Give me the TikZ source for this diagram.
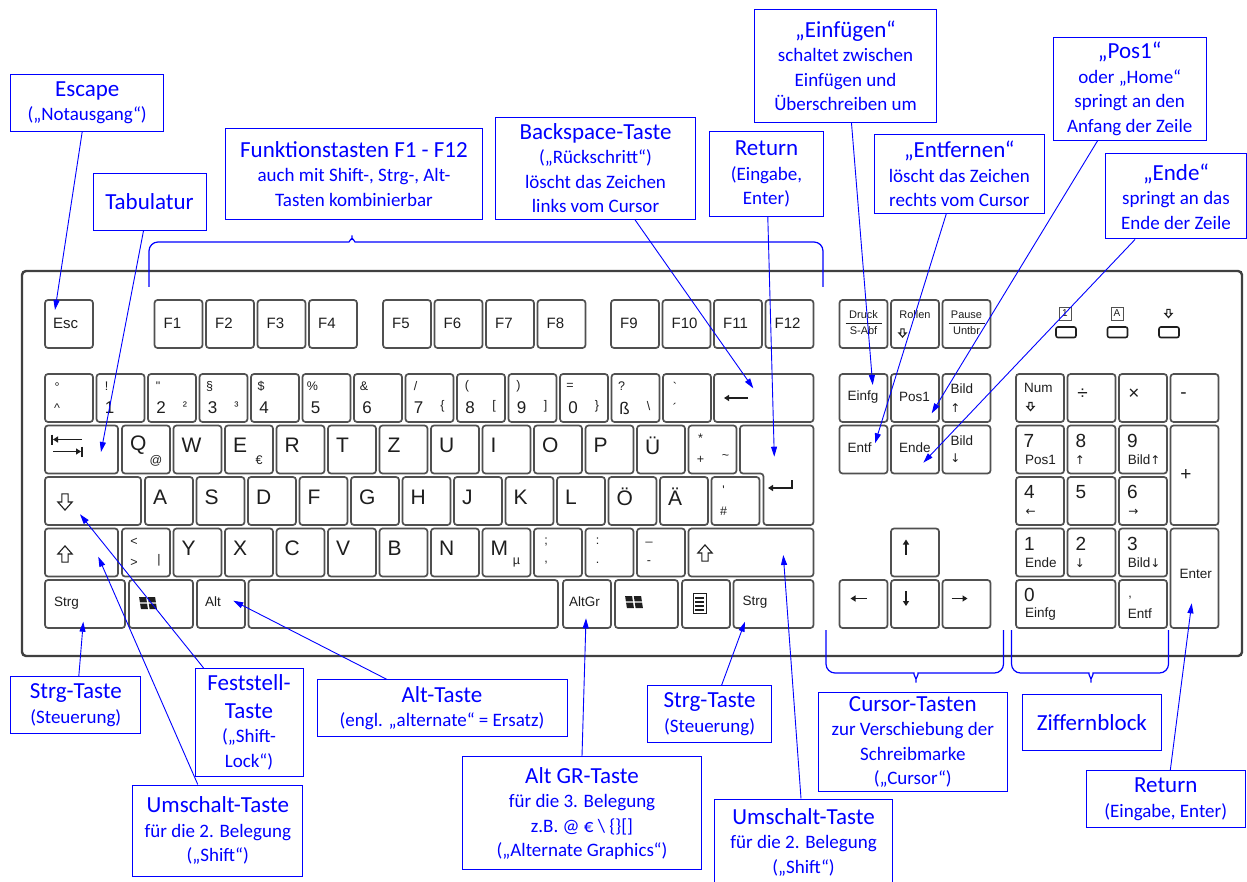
\documentclass[tikz,border=0pt]{standalone}
\usepackage{fontspec}
\setmainfont{Carlito}
\newfontfamily\keyfont{Liberation Sans}
\newfontfamily\symfont{DejaVu Sans}
\usetikzlibrary{calc}
\usetikzlibrary{arrows.meta}
\tikzset{>={Triangle[width=6pt,length=10pt]}}
\definecolor{noteblue}{RGB}{0,0,255}
\definecolor{keyline}{RGB}{80,80,80}
\definecolor{keytext}{RGB}{30,30,30}

\newcommand{\ttl}[1]{{\fontsize{23}{24}\selectfont #1}}

% Ziffern-Taste: Shift oben, Ziffer unten, AltGr rechts
\newcommand{\numkey}[5]{%
  \node[key] (#1) at (#2,374) {};
  \node[keysm] (#1u) at ($(#1.north west)+(10,12)$) {#3};
  \node[keydigit] (#1d) at ($(#1.north west)+(13,34)$) {#4};
  \node[keysm] (#1a) at ($(#1.north west)+(37,32)$) {#5};}
\newcommand{\symkey}[6]{%
  \node[key] (#1) at (#2,#3) {};
  \node[keysm] (#1u) at ($(#1.north west)+(12,13)$) {#4};
  \node[keysm] (#1d) at ($(#1.north west)+(12,34)$) {#5};
  \node[keysm] (#1a) at ($(#1.north west)+(37,32)$) {#6};}
\newcommand{\hollowdown}[3]{%
  \draw[keytext, line width=1.1pt, shift={(#1,#2)}, scale=#3]
    (-3.5,-9) -- (3.5,-9) -- (3.5,0) -- (8,0) -- (0,9) -- (-8,0) -- (-3.5,0) -- cycle;}
\newcommand{\hollowup}[3]{%
  \draw[keytext, line width=1.1pt, shift={(#1,#2)}, scale=#3, yscale=-1]
    (-3.5,-9) -- (3.5,-9) -- (3.5,0) -- (8,0) -- (0,9) -- (-8,0) -- (-3.5,0) -- cycle;}
\newcommand{\winlogo}[2]{%
  \fill[keytext, shift={(#1,#2)}, xslant=-0.15]
    (-8,-6) rectangle (-1,-0.7) (0.7,-6) rectangle (8,-0.7)
    (-8,0.7) rectangle (-1,6) (0.7,0.7) rectangle (8,6);}

\begin{document}
\begin{tikzpicture}[
    x=1pt, y=-1pt,
    keyframe/.style = {draw=keyline, line width=1.7pt, rounded corners=3pt, fill=white},
    key/.style = {keyframe, anchor=north west, inner sep=0pt, outer sep=0pt,
        minimum width=48pt, minimum height=48pt},
    keysm/.style = {font=\keyfont\fontsize{12.5}{12.5}\selectfont, text=keytext, inner sep=0pt},
    keydigit/.style = {font=\keyfont\fontsize{17}{17}\selectfont, text=keytext, inner sep=0pt},
    keynum/.style = {font=\keyfont\fontsize{19}{19}\selectfont, text=keytext, inner sep=0pt},
    keyltr/.style = {font=\keyfont\fontsize{21}{21}\selectfont, text=keytext, inner sep=0pt, anchor=west},
    keyfn/.style = {font=\keyfont\fontsize{15}{15}\selectfont, text=keytext, inner sep=0pt, anchor=west},
    keymod/.style = {font=\keyfont\fontsize{13.5}{13.5}\selectfont, text=keytext, inner sep=0pt, anchor=west},
    keytiny/.style = {font=\keyfont\fontsize{11}{11}\selectfont, text=keytext, inner sep=0pt},
    keyglyph/.style = {font=\symfont\fontsize{12}{12}\selectfont, text=keytext, inner sep=0pt},
    keyarr/.style = {draw=keytext, line width=1.6pt, -{Triangle[length=5pt,width=6pt]}},
    note/.style = {draw=noteblue, text=noteblue, line width=1pt, align=center,
        inner sep=1pt, font=\fontsize{19}{24.5}\selectfont},
    arr/.style = {->, draw=noteblue, line width=0.9pt},
    brace/.style = {draw=noteblue, line width=1.2pt}
  ]
  \useasboundingbox (0,0) rectangle (1247,882);

  % Gehaeuse
  \draw[draw=black!75, line width=2.4pt, rounded corners=4pt] (22,271) rectangle (1242,656);

  % Funktionsreihe
  \node[key] (kesc) at (45,300) {};
  \node[keyfn] (kescl) at ($(kesc.north west)+(8,23)$) {Esc};
  \foreach \x [count=\i] in {154.5,206,257.5,309,383,434.5,486,537.5,611,662.5,714,765.5} {
    \node[key] (f\i) at (\x,300) {};
    \node[keyfn] (fl\i) at ($(f\i.north west)+(9,23)$) {F\i};}

  % Ziffernreihe
  \symkey{kcirc}{45}{374}{°}{\textasciicircum}{}
  \numkey{k1}{96.5}{!}{1}{}
  \numkey{k2}{148}{"}{2}{²}
  \numkey{k3}{199.5}{§}{3}{³}
  \numkey{k4}{251}{\$}{4}{}
  \numkey{k5}{302.5}{\%}{5}{}
  \numkey{k6}{354}{\&}{6}{}
  \numkey{k7}{405.5}{/}{7}{\{}
  \numkey{k8}{457}{(}{8}{[}
  \numkey{k9}{508.5}{)}{9}{]}
  \numkey{k0}{560}{=}{0}{\}}
  \numkey{kss}{611.5}{?}{ß}{\textbackslash}
  \symkey{kacc}{663}{374}{`}{´}{}
  \node[key, minimum width=99.5pt] (kbs) at (714,374) {};
  \draw[keyarr] ($(kbs.north west)+(34,24)$) -- ($(kbs.north west)+(10,24)$);

  % QWERTZ-Reihe
  \node[key, minimum width=73pt] (ktab) at (45,425.5) {};
  \draw[keyarr, line width=1.3pt] ($(ktab.north west)+(37,14)$) -- ($(ktab.north west)+(8,14)$);
  \draw[keytext, line width=1.3pt] ($(ktab.north west)+(7,9)$) -- ($(ktab.north west)+(7,19)$);
  \draw[keyarr, line width=1.3pt] ($(ktab.north west)+(8,26)$) -- ($(ktab.north west)+(36,26)$);
  \draw[keytext, line width=1.3pt] ($(ktab.north west)+(37,21)$) -- ($(ktab.north west)+(37,31)$);
  \foreach \c [count=\i from 0] in {Q,W,E,R,T,Z,U,I,O,P,Ü} {
    \node[key] (q\i) at ({122+51.5*\i},425.5) {};
    \node[keyltr] (ql\i) at ($(q\i.north west)+(8,20)$) {\c};}
  \node[keysm] (qat) at ($(q0.north west)+(34,35)$) {@};
  \node[keysm] (qeuro) at ($(q2.north west)+(34,35)$) {€};
  \symkey{kplus}{688.5}{425.5}{*}{+}{\textasciitilde}
  \draw[keyframe] (740,425.5) -- (813.5,425.5) -- (813.5,525) -- (763.5,525)
    -- (763.5,473.5) -- (740,473.5) -- cycle;
  \coordinate (kret) at (740,425.5);
  \draw[keyarr] (792,480) -- (792,488) -- (768,488);

  % ASDF-Reihe
  \node[key, minimum width=96pt] (kcaps) at (45,477) {};
  \hollowdown{65}{502}{0.9}
  \foreach \c [count=\i from 0] in {A,S,D,F,G,H,J,K,L,Ö,Ä} {
    \node[key] (a\i) at ({145+51.5*\i},477) {};
    \node[keyltr] (al\i) at ($(a\i.north west)+(8,20)$) {\c};}
  \symkey{khash}{711.5}{477}{'}{\#}{}

  % YXCV-Reihe
  \node[key, minimum width=73pt] (klshift) at (45,528.5) {};
  \hollowup{65}{554}{0.9}
  \symkey{kless}{122}{528.5}{<}{>}{|}
  \foreach \c [count=\i from 0] in {Y,X,C,V,B,N,M} {
    \node[key] (y\i) at ({173.5+51.5*\i},528.5) {};
    \node[keyltr] (yl\i) at ($(y\i.north west)+(8,20)$) {\c};}
  \node[keysm] (ymu) at ($(y6.north west)+(34,34)$) {µ};
  \symkey{ksemi}{534}{528.5}{;}{,}{}
  \symkey{kcolon}{585.5}{528.5}{:}{.}{}
  \symkey{kminus}{637}{528.5}{\_}{-}{}
  \node[key, minimum width=125pt] (krshift) at (688.5,528.5) {};
  \hollowup{705}{553}{0.9}

  % untere Reihe
  \node[key, minimum width=80pt] (klctrl) at (45,580) {};
  \node[keymod] (klctrll) at ($(klctrl.north west)+(9,23)$) {Strg};
  \node[key, minimum width=64pt] (klwin) at (129,580) {};
  \winlogo{148}{603}
  \node[key] (kalt) at (197,580) {};
  \node[keymod] (kaltl) at ($(kalt.north west)+(8,22)$) {Alt};
  \node[key, minimum width=309.5pt] (kspace) at (248.5,580) {};
  \node[key] (kaltgr) at (563,580) {};
  \node[keymod] (kaltgrl) at ($(kaltgr.north west)+(6,22)$) {AltGr};
  \node[key, minimum width=63pt] (krwin) at (615,580) {};
  \winlogo{634}{602}
  \node[key] (kmenu) at (682,580) {};
  \draw[keytext, line width=1pt] (693,593) rectangle (706,613);
  \foreach \y in {597,601,605,609} \fill[keytext] (695,\y) rectangle (704,{\y+2});
  \node[key, minimum width=80pt] (krctrl) at (733.5,580) {};
  \node[keymod] (krctrll) at ($(krctrl.north west)+(9,22)$) {Strg};

  % Steuerblock
  \node[key] (kprint) at (839.5,300) {};
  \node[keytiny] (kprintu) at ($(kprint.north west)+(24,15)$) {Druck};
  \draw[keytext, line width=0.7pt] ($(kprint.north west)+(6,23)$) -- ($(kprint.north west)+(42,23)$);
  \node[keytiny] (kprintd) at ($(kprint.north west)+(24,31)$) {S-Abf};
  \node[key] (kscroll) at (891,300) {};
  \node[keytiny] (kscrollu) at ($(kscroll.north west)+(24,15)$) {Rollen};
  \hollowdown{902.5}{333}{0.45}
  \node[key] (kpause) at (942.5,300) {};
  \node[keytiny] (kpauseu) at ($(kpause.north west)+(24,15)$) {Pause};
  \draw[keytext, line width=0.7pt] ($(kpause.north west)+(6,23)$) -- ($(kpause.north west)+(42,23)$);
  \node[keytiny] (kpaused) at ($(kpause.north west)+(24,31)$) {Untbr};

  \node[key] (kins) at (839.5,374) {};
  \node[keymod] (kinsl) at ($(kins.north west)+(8,23)$) {Einfg};
  \node[key] (khome) at (891,374) {};
  \node[keymod] (khomel) at ($(khome.north west)+(8,23)$) {Pos1};
  \node[key] (kpgup) at (942.5,374) {};
  \node[keymod] (kpgupl) at ($(kpgup.north west)+(8,15)$) {Bild};
  \node[keyglyph] (kpgupa) at ($(kpgup.north west)+(13,34)$) {↑};
  \node[key] (kdel) at (839.5,425.5) {};
  \node[keymod] (kdell) at ($(kdel.north west)+(8,22)$) {Entf};
  \node[key] (kend) at (891,425.5) {};
  \node[keymod] (kendl) at ($(kend.north west)+(8,22)$) {Ende};
  \node[key] (kpgdn) at (942.5,425.5) {};
  \node[keymod] (kpgdnl) at ($(kpgdn.north west)+(8,15)$) {Bild};
  \node[keyglyph] (kpgdna) at ($(kpgdn.north west)+(13,33)$) {↓};

  \node[key] (kup) at (891,528.5) {};
  \draw[keyarr] ($(kup.north west)+(15,26)$) -- ($(kup.north west)+(15,11)$);
  \node[key] (kleft) at (839.5,580) {};
  \draw[keyarr] ($(kleft.north west)+(27,18.5)$) -- ($(kleft.north west)+(11,18.5)$);
  \node[key] (kdown) at (891,580) {};
  \draw[keyarr] ($(kdown.north west)+(15,11)$) -- ($(kdown.north west)+(15,26)$);
  \node[key] (kright) at (942.5,580) {};
  \draw[keyarr] ($(kright.north west)+(9,18.5)$) -- ($(kright.north west)+(25,18.5)$);

  % Anzeigen
  \foreach \x in {1056,1107.5,1159}
    \draw[keytext, line width=1.6pt, rounded corners=2pt] (\x,327) rectangle ++(20,10.5);
  \node[draw=keyline, line width=0.8pt, keytiny, font=\keyfont\fontsize{10}{10}\selectfont,
    minimum width=12pt, minimum height=13pt] (lednum) at (1065,313.5) {1};
  \node[draw=keyline, line width=0.8pt, keytiny, font=\keyfont\fontsize{10}{10}\selectfont,
    minimum width=12pt, minimum height=13pt] (ledcaps) at (1117,313.5) {A};
  \hollowdown{1168.5}{313.5}{0.45}

  % Ziffernblock
  \node[key] (nnum) at (1016,374) {};
  \node[keymod] (nnuml) at ($(nnum.north west)+(8,14)$) {Num};
  \hollowdown{1030.5}{406.5}{0.45}
  \node[key] (ndiv) at (1067.5,374) {};
  \node[keynum] (ndivl) at ($(ndiv.north west)+(15,20)$) {÷};
  \node[key] (nmul) at (1119,374) {};
  \node[keynum] (nmull) at ($(nmul.north west)+(15,20)$) {×};
  \node[key] (nsub) at (1170.5,374) {};
  \node[keynum] (nsubl) at ($(nsub.north west)+(13,22)$) {-};
  \node[key] (n7) at (1016,425.5) {};
  \node[keynum] (n7l) at ($(n7.north west)+(13,15.5)$) {7};
  \node[keymod] (n7s) at ($(n7.north west)+(9,34.5)$) {Pos1};
  \node[key] (n8) at (1067.5,425.5) {};
  \node[keynum] (n8l) at ($(n8.north west)+(13.5,15.5)$) {8};
  \node[keyglyph] (n8s) at ($(n8.north west)+(12.5,34.5)$) {↑};
  \node[key] (n9) at (1119,425.5) {};
  \node[keynum] (n9l) at ($(n9.north west)+(13.3,15.5)$) {9};
  \node[keymod] (n9s) at ($(n9.north west)+(8.7,34.5)$) {Bild{\symfont\fontsize{12}{12}\selectfont↑}};
  \node[key, minimum height=99.5pt] (nplus) at (1170.5,425.5) {};
  \node[keynum] (nplusl) at ($(nplus.north west)+(15.5,49.5)$) {+};
  \node[key] (n4) at (1016,477) {};
  \node[keynum] (n4l) at ($(n4.north west)+(13.3,15.3)$) {4};
  \node[keyglyph] (n4s) at ($(n4.north west)+(14.7,35.3)$) {←};
  \node[key] (n5) at (1067.5,477) {};
  \node[keynum] (n5l) at ($(n5.north west)+(13.5,15.3)$) {5};
  \node[key] (n6) at (1119,477) {};
  \node[keynum] (n6l) at ($(n6.north west)+(13.3,15.3)$) {6};
  \node[keyglyph] (n6s) at ($(n6.north west)+(14.3,35.3)$) {→};
  \node[key] (n1) at (1016,528.5) {};
  \node[keynum] (n1l) at ($(n1.north west)+(13.3,15.8)$) {1};
  \node[keymod] (n1s) at ($(n1.north west)+(9,34.2)$) {Ende};
  \node[key] (n2) at (1067.5,528.5) {};
  \node[keynum] (n2l) at ($(n2.north west)+(13.5,15.8)$) {2};
  \node[keyglyph] (n2s) at ($(n2.north west)+(12.5,34.2)$) {↓};
  \node[key] (n3) at (1119,528.5) {};
  \node[keynum] (n3l) at ($(n3.north west)+(13.3,15.8)$) {3};
  \node[keymod] (n3s) at ($(n3.north west)+(8.7,34.2)$) {Bild{\symfont\fontsize{12}{12}\selectfont↓}};
  \node[key, minimum height=99.5pt] (nenter) at (1170.5,528.5) {};
  \node[keymod, anchor=center] (nenterl) at ($(nenter.north west)+(25.2,45.5)$) {Enter};
  \node[key, minimum width=99.5pt] (n0) at (1016,580) {};
  \node[keynum] (n0l) at ($(n0.north west)+(13.3,15)$) {0};
  \node[keymod] (n0s) at ($(n0.north west)+(9,34.3)$) {Einfg};
  \node[key] (ncomma) at (1119,580) {};
  \node[keysm] (ncommal) at ($(ncomma.north west)+(11,18)$) {,};
  \node[keymod] (ncommas) at ($(ncomma.north west)+(8.7,33.3)$) {Entf};

  % Klammern
  \draw[brace, rounded corners=9pt] (149,287) -- (149,242) -- (340,242)
    .. controls (349,242) and (352,237) .. (352,230)
    .. controls (352,237) and (355,242) .. (364,242) -- (823,242) -- (823,287);
  \draw[brace, rounded corners=9pt] (826,630) -- (826,673) -- (905,673)
    .. controls (913,673) and (916,679) .. (916,688)
    .. controls (916,679) and (919,673) .. (927,673) -- (1003.5,673) -- (1003.5,630);
  \draw[brace, rounded corners=9pt] (1011.5,630) -- (1011.5,673) -- (1080,673)
    .. controls (1088,673) and (1091,679) .. (1091,688)
    .. controls (1091,679) and (1094,673) .. (1102,673) -- (1168.5,673) -- (1168.5,630);

  % Beschriftungen oben
  \node[note, minimum width=153pt, minimum height=56.6pt] (escbox) at (87.2,103)
    {\ttl{Escape}\\(„Notausgang“)};
  \node[note, minimum width=113pt, minimum height=56.6pt] (tabbox) at (149.5,202)
    {\ttl{Tabulatur}};
  \node[note, minimum width=256.6pt, minimum height=90.6pt] (fnbox) at (354,174)
    {\ttl{Funktionstasten F1 - F12}\\auch mit Shift-, Strg-, Alt-\\Tasten kombinierbar};
  \node[note, minimum width=199.5pt, minimum height=102pt] (bsbox) at (595.5,168.3)
    {\ttl{Backspace-Taste}\\(„Rückschritt“)\\löscht das Zeichen\\links vom Cursor};
  \node[note, minimum width=113.5pt, minimum height=85pt] (retbox) at (766.5,174.2)
    {\ttl{Return}\\(Eingabe,\\Enter)};
  \node[note, minimum width=181.7pt, minimum height=113.4pt] (insbox) at (845.5,66)
    {\ttl{„Einfügen“}\\schaltet zwischen\\Einfügen und\\Überschreiben um};
  \node[note, minimum width=170.6pt, minimum height=79pt] (delbox) at (959.3,173.8)
    {\ttl{„Entfernen“}\\löscht das Zeichen\\rechts vom Cursor};
  \node[note, minimum width=153.4pt, minimum height=102.7pt] (homebox) at (1129.7,88.7)
    {\ttl{„Pos1“}\\oder „Home“\\springt an den\\Anfang der Zeile};
  \node[note, minimum width=140.8pt, minimum height=85pt] (endbox) at (1176,196.5)
    {\ttl{„Ende“}\\springt an das\\Ende der Zeile};

  % Beschriftungen unten
  \node[note, minimum width=130.3pt, minimum height=57pt] (lctrlbox) at (75.8,705.2)
    {\ttl{Strg-Taste}\\(Steuerung)};
  \node[note, minimum width=108pt, minimum height=107.7pt] (capsbox) at (249,722.2)
    {\ttl{Feststell-}\\[3pt]\ttl{Taste}\\(„Shift-\\Lock“)};
  \node[note, minimum width=250pt, minimum height=56.7pt] (altbox) at (442,708.3)
    {\ttl{Alt-Taste}\\(engl. „alternate“ = Ersatz)};
  \node[note, minimum width=170.3pt, minimum height=91pt] (lshiftbox) at (217.8,830.5)
    {\ttl{Umschalt-Taste}\\für die 2. Belegung\\(„Shift“)};
  \node[note, minimum width=239.2pt, minimum height=113.3pt] (altgrbox) at (582,813.3)
    {\ttl{Alt GR-Taste}\\für die 3. Belegung\\z.B. @ € \textbackslash\ \{\}[]\\(„Alternate Graphics“)};
  \node[note, minimum width=124.3pt, minimum height=56.6pt] (rctrlbox) at (709.6,714)
    {\ttl{Strg-Taste}\\(Steuerung)};
  \node[note, minimum width=177.8pt, minimum height=86pt] (rshiftbox) at (803.6,842)
    {\ttl{Umschalt-Taste}\\für die 2. Belegung\\(„Shift“)};
  \node[note, minimum width=189pt, minimum height=99.4pt] (cursorbox) at (912.8,742)
    {\ttl{Cursor-Tasten}\\zur Verschiebung der\\Schreibmarke\\(„Cursor“)};
  \node[note, minimum width=139.8pt, minimum height=56.4pt] (numbox) at (1091.9,722.5)
    {\ttl{Ziffernblock}};
  \node[note, minimum width=159.4pt, minimum height=56.6pt] (enterbox) at (1165.7,799)
    {\ttl{Return}\\(Eingabe, Enter)};

  % Pfeilspitzen auf den Tasten
  \coordinate (escT) at ($(kesc.north west)+(10,10)$);
  \coordinate (tabT) at ($(ktab.north west)+(56,26.5)$);
  \coordinate (bsT) at ($(kbs.north west)+(39.3,14.3)$);
  \coordinate (retT) at ($(kret)+(34.3,31.2)$);
  \coordinate (insT) at ($(kins.north west)+(33.2,11)$);
  \coordinate (delT) at ($(kdel.north west)+(35.5,17.8)$);
  \coordinate (homeT) at ($(khome.north west)+(40.7,39.3)$);
  \coordinate (endT) at ($(kend.north west)+(32.3,37.2)$);
  \coordinate (lctrlT) at ($(klctrl.north west)+(38.3,41.7)$);
  \coordinate (capsT) at ($(kcaps.north west)+(35,37.3)$);
  \coordinate (lshiftT) at ($(klshift.north west)+(53.3,28.2)$);
  \coordinate (altT) at ($(kalt.north west)+(36.3,20.7)$);
  \coordinate (altgrT) at ($(kaltgr.north west)+(23,38.3)$);
  \coordinate (rctrlT) at ($(krctrl.north west)+(11.5,41.7)$);
  \coordinate (rshiftT) at ($(krshift.north west)+(94.8,26.5)$);
  \coordinate (enterT) at ($(nenter.north west)+(21.2,74.8)$);

  \draw[arr] ([xshift=-5pt]escbox.south) -- (escT);
  \draw[arr] ([xshift=-6pt]tabbox.south) -- (tabT);
  \draw[arr] ([xshift=39.5pt]bsbox.south) -- (bsT);
  \draw[arr] ([xshift=1.3pt]retbox.south) -- (retT);
  \draw[arr] ([xshift=6pt]insbox.south) -- (insT);
  \draw[arr] ([xshift=-13pt]delbox.south) -- (delT);
  \draw[arr] ([xshift=-32pt]homebox.south) -- (homeT);
  \draw[arr] ([xshift=-41pt]endbox.south) -- (endT);
  \draw[arr] ([xshift=3pt]lctrlbox.north) -- (lctrlT);
  \draw[arr] ([xshift=9pt]capsbox.north west) -- (capsT);
  \draw[arr] ([xshift=-20pt]lshiftbox.north) -- (lshiftT);
  \draw[arr] ([xshift=-55pt]altbox.north) -- (altT);
  \draw[arr] (altgrbox.north) -- (altgrT);
  \draw[arr] ([xshift=12pt]rctrlbox.north) -- (rctrlT);
  \draw[arr] ([xshift=-2.6pt]rshiftbox.north) -- (rshiftT);
  \draw[arr] ([xshift=4.6pt]enterbox.north) -- (enterT);
\end{tikzpicture}
\end{document}
